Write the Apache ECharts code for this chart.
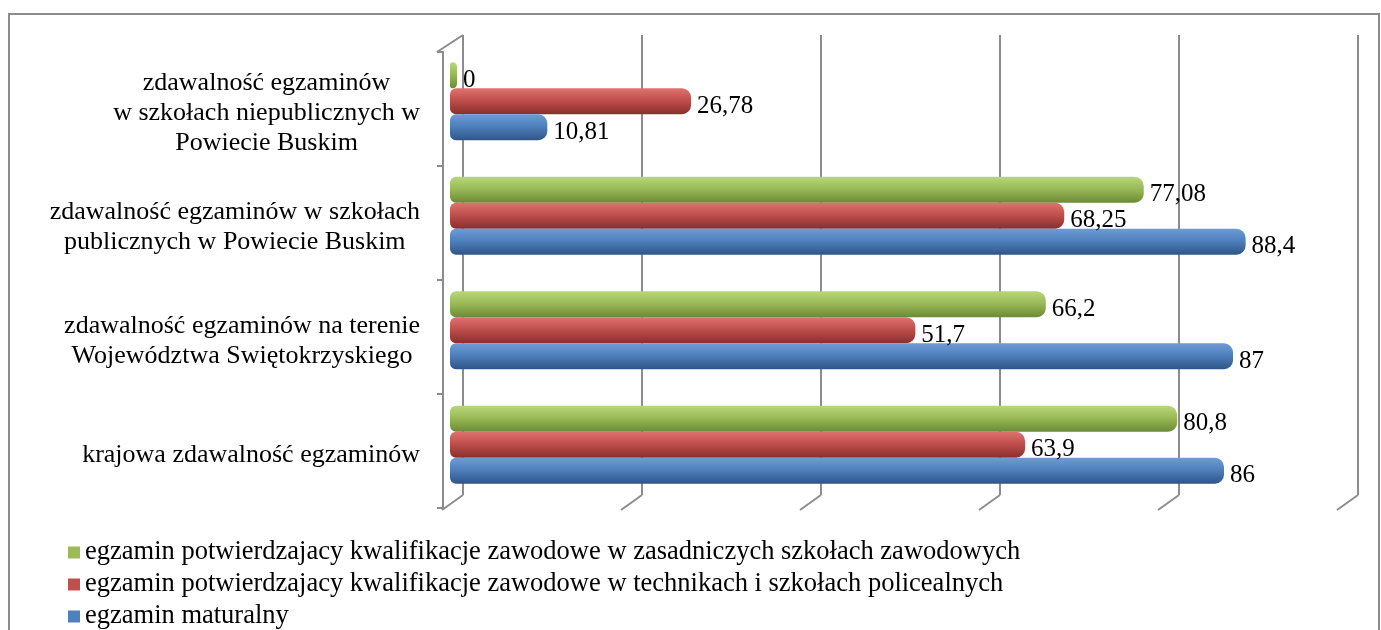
<!DOCTYPE html>
<html>
<head>
<meta charset="utf-8">
<script src="https://cdn.jsdelivr.net/npm/echarts@6/dist/echarts.min.js"></script>
<style>
  html, body { margin: 0; padding: 0; background: #fff; }
  #frame { position: absolute; left: 8px; top: 13px; width: 1368px; height: 640px;
    border: 2px solid #8c8c8c; border-bottom: none; }
  #chart { position: absolute; left: 0; top: 0; width: 1381px; height: 630px; }
</style>
</head>
<body>
<div id="frame"></div>
<div id="chart"></div>
<script>
// kategorie od gory do dolu
var categories = [
  'zdawalność egzaminów\nw szkołach niepublicznych w\nPowiecie Buskim',
  'zdawalność egzaminów w szkołach\npublicznych w Powiecie Buskim',
  'zdawalność egzaminów na terenie\nWojewództwa Swiętokrzyskiego',
  'krajowa zdawalność egzaminów'
]
var seriesNames = [
  'egzamin potwierdzajacy kwalifikacje zawodowe w zasadniczych szkołach zawodowych',
  'egzamin potwierdzajacy kwalifikacje zawodowe w technikach i szkołach policealnych',
  'egzamin maturalny'
]
var seriesColors = ['#9bbb59', '#c0504d', '#4f81bd']
var zszData = [0, 77.08, 66.2, 80.8]
var technikaData = [26.78, 68.25, 51.7, 63.9]
var maturaData = [10.81, 88.4, 87, 86]
var axisMax = 100
var axisStep = 20

var serif = '"Liberation Serif", "DejaVu Serif", serif'

function grad(top, mid, bottom) {
  return new echarts.graphic.LinearGradient(0, 0, 0, 1, [
    { offset: 0, color: top },
    { offset: 0.45, color: mid },
    { offset: 1, color: bottom }
  ])
}

function barSeries(name, data, colors, extra) {
  var s = {
    name: name,
    type: 'bar',
    xAxisIndex: 2,
    yAxisIndex: 2,
    barWidth: 26,
    barGap: '0%',
    itemStyle: {
      color: grad(colors[0], colors[1], colors[2]),
      borderRadius: [6, 9, 9, 6]
    },
    label: {
      show: true,
      position: 'right',
      distance: 6,
      offset: [0, 5],
      color: '#000',
      fontFamily: serif,
      fontSize: 25,
      formatter: function (p) {
        return String(p.value).replace('.', ',')
      }
    },
    data: data
  }
  return Object.assign(s, extra || {})
}

var chart = echarts.init(document.getElementById('chart'))

var option = {
  animation: false,
  grid: [
    // tylna sciana z liniami siatki
    { left: 463, top: 35, width: 895, height: 460 },
    // przednia krawedz osi kategorii
    { left: 443, top: 52, width: 895, height: 456 },
    // slupki
    { left: 450, top: 44, width: 900, height: 458 }
  ],
  legend: {
    orient: 'vertical',
    left: 68,
    top: 539,
    padding: 0,
    itemWidth: 12,
    itemHeight: 12,
    itemGap: 5,
    icon: 'rect',
    textStyle: { fontFamily: serif, fontSize: 26.5, lineHeight: 26, color: '#000' },
    data: seriesNames.map(function (n, i) {
      return { name: n, itemStyle: { color: seriesColors[i] } }
    })
  },
  xAxis: [
    {
      gridIndex: 0, type: 'value', min: 0, max: axisMax, interval: axisStep,
      axisLine: { show: false }, axisTick: { show: false }, axisLabel: { show: false },
      splitLine: { lineStyle: { color: '#8c8c8c', width: 2 } }
    },
    {
      gridIndex: 1, type: 'value', min: 0, max: axisMax, show: false
    },
    {
      gridIndex: 2, type: 'value', min: 0, max: axisMax, interval: axisStep,
      axisLine: { show: false }, axisTick: { show: false }, axisLabel: { show: false },
      splitLine: { show: false }
    }
  ],
  yAxis: [
    { gridIndex: 0, type: 'category', data: categories, show: false },
    {
      gridIndex: 1, type: 'category', data: categories, inverse: true,
      axisLine: { show: true, lineStyle: { color: '#8c8c8c', width: 2 } },
      axisTick: { show: true, length: 6, lineStyle: { color: '#8c8c8c', width: 2 } },
      axisLabel: {
        margin: 23,
        align: 'right',
        lineHeight: 30,
        padding: [8, 0, 0, 0],
        formatter: function (v) {
          return v.split('\n').map(function (l) { return '{c|' + l + '}' }).join('\n')
        },
        rich: {
          c: { align: 'center', fontFamily: serif, fontSize: 26, color: '#000', lineHeight: 30 }
        }
      }
    },
    {
      gridIndex: 2, type: 'category', data: categories, inverse: true, show: false
    }
  ],
  series: [
    barSeries(seriesNames[0], zszData, ['#b8d77a', '#9bbb59', '#6b8a36'], { barMinHeight: 7 }),
    barSeries(seriesNames[1], technikaData, ['#e07270', '#c0504d', '#8a2e2c']),
    barSeries(seriesNames[2], maturaData, ['#6f9bd6', '#4f81bd', '#2f5587'])
  ]
}

chart.setOption(option)

// ukosne odcinki perspektywy (dol tylnej sciany -> przednia krawedz)
var lines = []
var gray = { stroke: '#8c8c8c', lineWidth: 2 }
for (var v = 0; v <= axisMax; v += axisStep) {
  var back = chart.convertToPixel({ xAxisIndex: 0 }, v)
  lines.push({ type: 'line', shape: { x1: back, y1: 495, x2: back - 21, y2: 510 }, style: gray, z: 1 })
}
var frontX = chart.convertToPixel({ xAxisIndex: 1 }, 0)
var backX = chart.convertToPixel({ xAxisIndex: 0 }, 0)
lines.push({ type: 'line', shape: { x1: frontX - 6, y1: 52, x2: backX, y2: 35 }, style: gray, z: 1 })
chart.setOption({ graphic: lines })

window.addEventListener('resize', function () {
  chart.resize()
})
</script>
</body>
</html>
